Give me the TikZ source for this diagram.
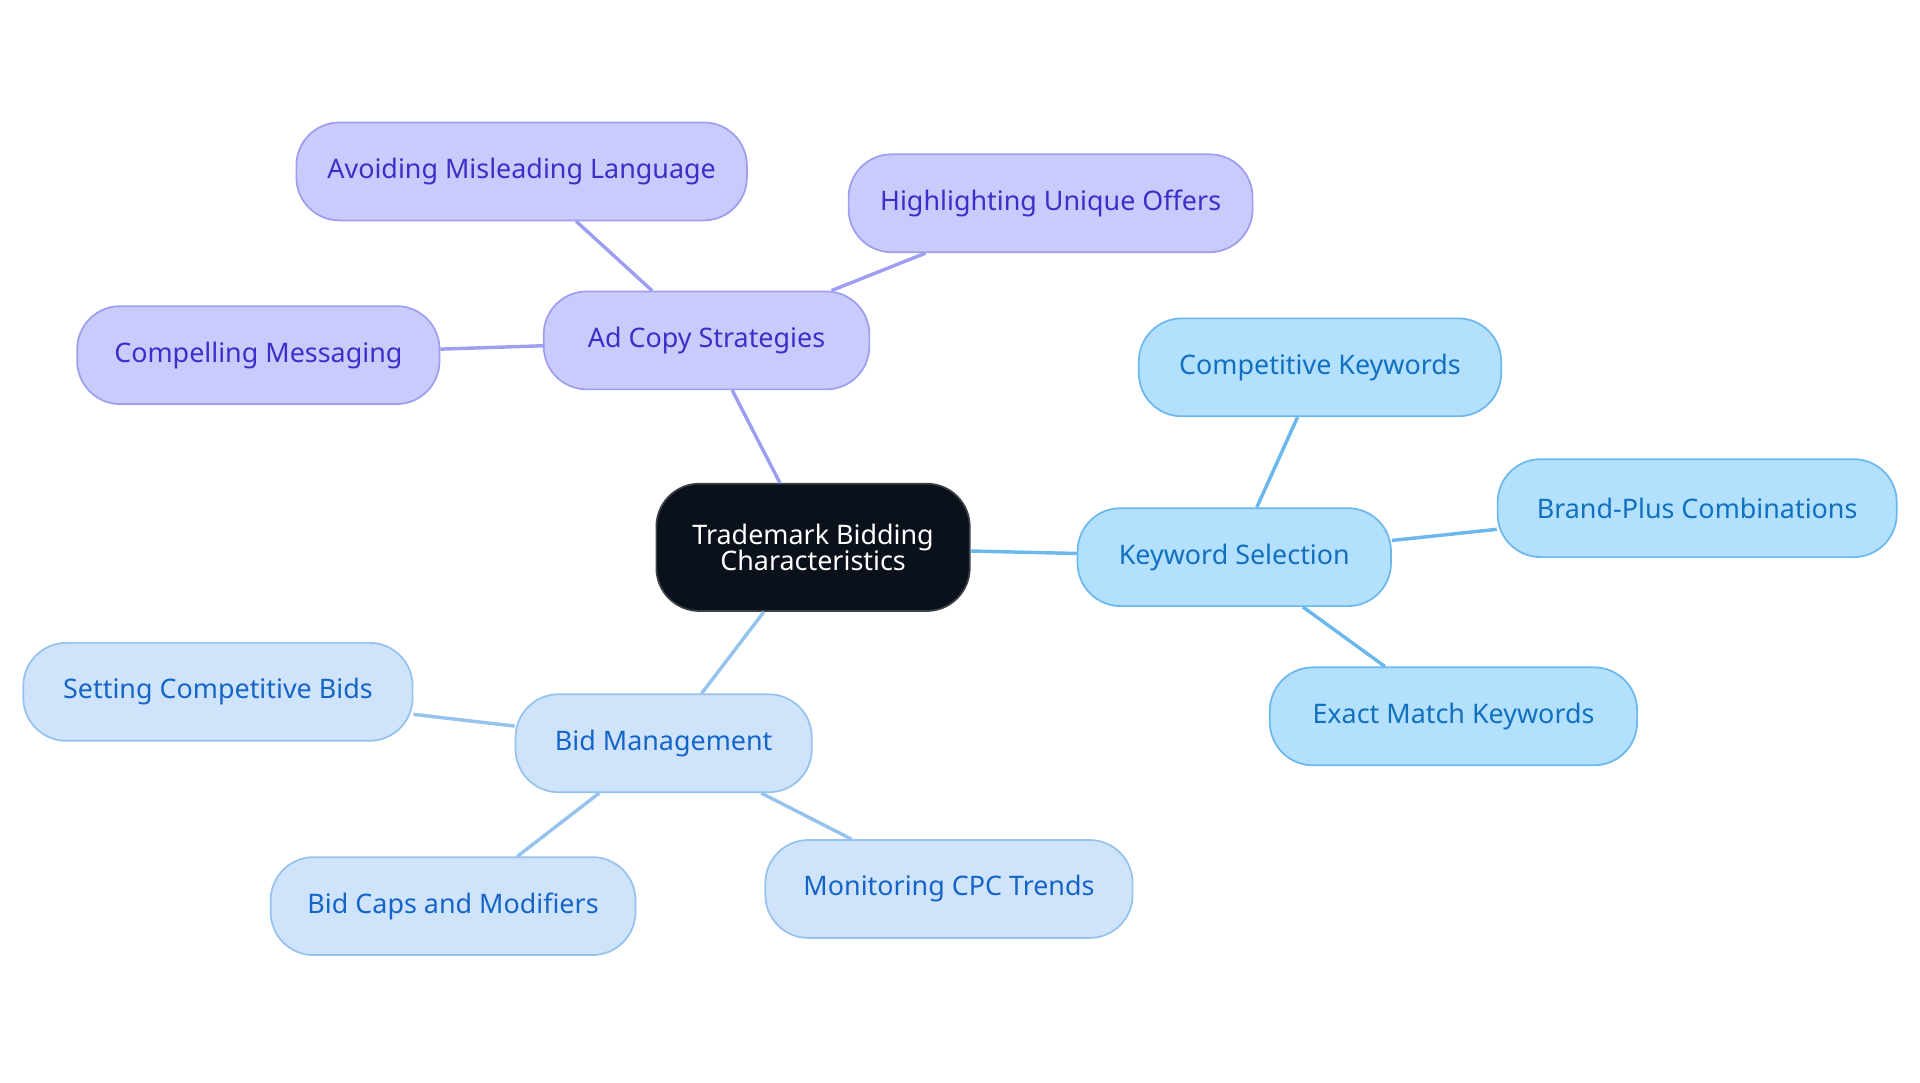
\documentclass[tikz,border=0pt]{standalone}
\usepackage{fontspec}
\setmainfont{Noto Sans}
\definecolor{rootfill}{HTML}{0B111B}
\definecolor{adfill}{HTML}{CACAFC}
\definecolor{adline}{HTML}{9E9EF0}
\definecolor{adtext}{HTML}{3A2FC8}
\definecolor{kwfill}{HTML}{B3E0FD}
\definecolor{kwline}{HTML}{6BB8EE}
\definecolor{kwtext}{HTML}{1170C0}
\definecolor{bidfill}{HTML}{CFE3FB}
\definecolor{bidline}{HTML}{96C2EE}
\definecolor{bidtext}{HTML}{1565C8}
\tikzset{
  box/.style={rounded corners=20pt, minimum height=1.6cm, line width=0.8pt, font=\fontsize{12.5}{15}\selectfont, align=center},
  root/.style={box, fill=rootfill, draw=rootfill!80, text=white, minimum height=2.08cm},
  adbox/.style={box, fill=adfill, draw=adline, text=adtext},
  kwbox/.style={box, fill=kwfill, draw=kwline, text=kwtext},
  bidbox/.style={box, fill=bidfill, draw=bidline, text=bidtext},
  link/.style={line width=1.6pt}
}
\begin{document}
\begin{tikzpicture}[x=0.02cm, y=-0.02cm]
\useasboundingbox (0,0) rectangle (1568,884);
% root
\node[root, minimum width=5.12cm] (root) at (664,447) {Trademark Bidding\\[-3pt]Characteristics};
% ad copy branch
\node[adbox, minimum width=5.32cm] (ad) at (577,278) {Ad Copy Strategies};
\node[adbox, minimum width=7.36cm] (avoid) at (426,140) {Avoiding Misleading Language};
\node[adbox, minimum width=6.6cm] (unique) at (858,166) {Highlighting Unique Offers};
\node[adbox, minimum width=5.92cm] (compel) at (211,290) {Compelling Messaging};
% keyword branch
\node[kwbox, minimum width=5.12cm] (kw) at (1008,455) {Keyword Selection};
\node[kwbox, minimum width=5.92cm] (compkw) at (1078,300) {Competitive Keywords};
\node[kwbox, minimum width=6.52cm] (brand) at (1386,415) {Brand-Plus Combinations};
\node[kwbox, minimum width=6cm] (exact) at (1187,585) {Exact Match Keywords};
% bid branch
\node[bidbox, minimum width=4.84cm] (bid) at (542,607) {Bid Management};
\node[bidbox, minimum width=6.36cm] (setbid) at (178,565) {Setting Competitive Bids};
\node[bidbox, minimum width=5.96cm] (caps) at (370,740) {Bid Caps and Modifiers};
\node[bidbox, minimum width=6cm] (cpc) at (775,726) {Monitoring CPC Trends};
% connectors
\begin{scope}[on background layer/.style={}]
\draw[link, adline] (root) -- (ad);
\draw[link, adline] (ad) -- (avoid);
\draw[link, adline] (ad) -- (unique);
\draw[link, adline] (ad) -- (compel);
\draw[link, kwline] (root) -- (kw);
\draw[link, kwline] (kw) -- (compkw);
\draw[link, kwline] (kw) -- (brand);
\draw[link, kwline] (kw) -- (exact);
\draw[link, bidline] (root) -- (bid);
\draw[link, bidline] (bid) -- (setbid);
\draw[link, bidline] (bid) -- (caps);
\draw[link, bidline] (bid) -- (cpc);
\end{scope}
\end{tikzpicture}
\end{document}
